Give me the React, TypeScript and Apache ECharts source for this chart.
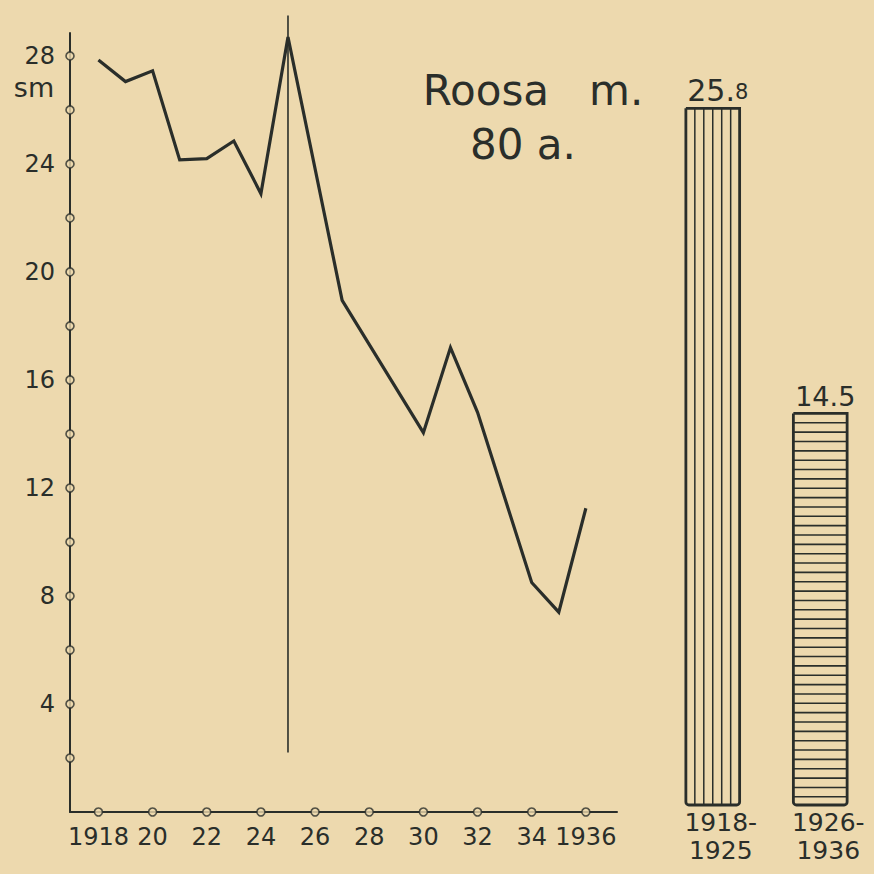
import React, { useEffect, useRef } from "react";
import * as echarts from "echarts";

// ---- data ----
const lineYears = [1918, 1919, 1920, 1921, 1922, 1923, 1924, 1925, 1927, 1930, 1931, 1932, 1934, 1935, 1936];
const lineValues = [27.85, 27.05, 27.45, 24.15, 24.2, 24.85, 22.9, 28.7, 18.95, 14.05, 17.2, 14.8, 8.5, 7.4, 11.25];
const xTickYears = [1918, 1920, 1922, 1924, 1926, 1928, 1930, 1932, 1934, 1936];
const xTickLabels = ["1918", "20", "22", "24", "26", "28", "30", "32", "34", "1936"];
const yTickValues = [2, 4, 6, 8, 10, 12, 14, 16, 18, 20, 22, 24, 26, 28];
const yLabelValues = [4, 8, 12, 16, 20, 24, 28];
const dividerYear = 1925;
const dividerSpan = [2.2, 29.5];
const periodCategories = ["1918-\n1925", "1926-\n1936"];
const periodAverages = [25.8, 14.5];
const titleLines = ["Roosa   m.", "80 a."];
const unitLabel = "sm";

const X_MIN = 1916.95;
const X_MAX = 1937.15;
const Y_MAX = 28.85;

const BG = "#edd9ae";
const INK = "#2a2e2a";
const NUM_FONT = "DejaVu Sans";
const TITLE_FONT = "DejaVu Sans";

export default function App() {
  const ref = useRef<HTMLDivElement>(null);

  useEffect(() => {
    if (!ref.current) return;
    const chart = echarts.init(ref.current, undefined, { renderer: "svg" });

    const renderBar = (params: any, api: any) => {
      const idx = api.value(0);
      const v = api.value(1);
      const top = api.coord([idx, v]);
      const base = api.coord([idx, 0]);
      const bw = api.size([1, 0])[0] * 0.5;
      const x0 = top[0] - bw / 2;
      const y0 = top[1];
      const h = base[1] - top[1];
      const children: any[] = [];
      children.push({
        type: "rect",
        shape: { x: x0, y: y0, width: bw, height: h, r: [0, 0, 3, 3] },
        style: { fill: "none", stroke: INK, lineWidth: 2.8 },
      });
      if (params.dataIndex === 0) {
        for (let i = 1; i < 6; i++) {
          const x = x0 + (i * bw) / 6;
          children.push({
            type: "line",
            shape: { x1: x, y1: y0, x2: x, y2: y0 + h },
            style: { stroke: INK, lineWidth: 1.5 },
          });
        }
      } else {
        const step = 9.35;
        for (let y = y0 + step; y < y0 + h - 3; y += step) {
          children.push({
            type: "line",
            shape: { x1: x0, y1: y, x2: x0 + bw, y2: y },
            style: { stroke: INK, lineWidth: 1.6 },
          });
        }
      }
      const s = String(v);
      const parts = s.split(".");
      const small = params.dataIndex === 0;
      children.push({
        type: "text",
        x: top[0] + 5,
        y: y0 - 3,
        style: {
          text: small ? `{a|${parts[0]}.}{b|${parts[1]}}` : `{c|${s}}`,
          align: "center",
          verticalAlign: "bottom",
          rich: {
            a: { fontFamily: NUM_FONT, fontSize: 30, fill: INK, lineHeight: 30 },
            b: { fontFamily: NUM_FONT, fontSize: 21, fill: INK, lineHeight: 30, padding: [4, 0, 0, 0] },
            c: { fontFamily: NUM_FONT, fontSize: 27, fill: INK, lineHeight: 28 },
          },
        },
      });
      return { type: "group", children };
    };

    const option: any = {
      animation: false,
      backgroundColor: BG,
      grid: [
        { left: 70, top: 33, width: 547, height: 779 },
        { left: 659, top: 26, width: 222, height: 779 },
      ],
      xAxis: [
        {
          type: "value",
          gridIndex: 0,
          min: X_MIN,
          max: X_MAX,
          axisLine: { show: true, lineStyle: { color: INK, width: 2 } },
          axisTick: { show: false },
          splitLine: { show: false },
          axisLabel: {
            customValues: xTickYears,
            formatter: (v: number) => xTickLabels[xTickYears.indexOf(v)] ?? "",
            fontFamily: NUM_FONT,
            fontSize: 24,
            color: INK,
            margin: 13,
          },
        },
        {
          type: "category",
          gridIndex: 1,
          data: periodCategories,
          axisLine: { show: false },
          axisTick: { show: false },
          axisLabel: {
            fontFamily: NUM_FONT,
            fontSize: 25,
            lineHeight: 28,
            color: INK,
            margin: 3,
            padding: [0, 0, 0, 16],
          },
        },
      ],
      yAxis: [
        {
          type: "value",
          gridIndex: 0,
          min: 0,
          max: Y_MAX,
          axisLine: { show: true, lineStyle: { color: INK, width: 2 } },
          axisTick: { show: false },
          splitLine: { show: false },
          axisLabel: {
            customValues: yLabelValues,
            fontFamily: NUM_FONT,
            fontSize: 24,
            lineHeight: 22,
            color: INK,
            margin: 15,
          },
        },
        {
          type: "value",
          gridIndex: 1,
          min: 0,
          max: Y_MAX,
          show: false,
          splitLine: { show: false },
        },
      ],
      graphic: [
        {
          type: "text",
          x: 533,
          y: 90,
          style: {
            text: titleLines[0],
            fontFamily: TITLE_FONT,
            fontSize: 42,
            fill: INK,
            align: "center",
            verticalAlign: "middle",
          },
        },
        {
          type: "text",
          x: 523,
          y: 144,
          style: {
            text: titleLines[1],
            fontFamily: TITLE_FONT,
            fontSize: 42,
            fill: INK,
            align: "center",
            verticalAlign: "middle",
          },
        },
        {
          type: "text",
          x: 34,
          y: 87,
          style: {
            text: unitLabel,
            fontFamily: TITLE_FONT,
            fontSize: 27,
            lineHeight: 20,
            fill: INK,
            align: "center",
            verticalAlign: "middle",
          },
        },
      ],
      series: [
        {
          type: "line",
          xAxisIndex: 0,
          yAxisIndex: 0,
          data: [
            [dividerYear, dividerSpan[0]],
            [dividerYear, dividerSpan[1]],
          ],
          symbol: "none",
          clip: false,
          lineStyle: { color: INK, width: 1.6 },
          z: 3,
        },
        {
          type: "line",
          xAxisIndex: 0,
          yAxisIndex: 0,
          data: lineYears.map((y, i) => [y, lineValues[i]]),
          symbol: "none",
          clip: false,
          lineStyle: { color: INK, width: 3.2, join: "miter" },
          z: 4,
        },
        {
          type: "scatter",
          xAxisIndex: 0,
          yAxisIndex: 0,
          clip: false,
          symbol: "circle",
          symbolSize: 8,
          itemStyle: { color: BG, borderColor: INK, borderWidth: 1.6 },
          data: [
            ...xTickYears.map((y) => [y, 0]),
            ...yTickValues.map((v) => [X_MIN, v]),
          ],
          z: 5,
        },
        {
          type: "custom",
          xAxisIndex: 1,
          yAxisIndex: 1,
          renderItem: renderBar,
          data: periodAverages.map((v, i) => [i, v]),
          clip: false,
          z: 3,
        },
      ],
    };

    chart.setOption(option);
    return () => chart.dispose();
  }, []);

  return (
    <div
      ref={ref}
      style={{ width: 874, height: 874, position: "absolute", left: 0, top: 0 }}
    />
  );
}
